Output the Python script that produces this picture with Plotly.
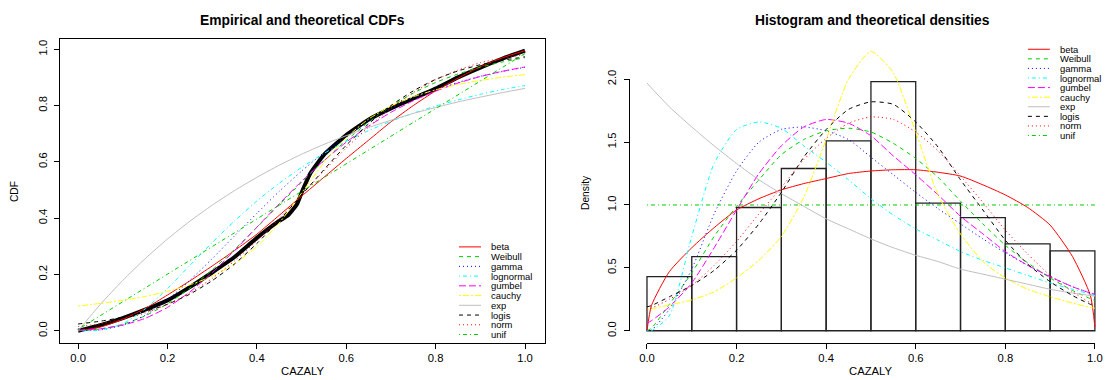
import plotly.graph_objects as go

W, H = 1109, 380
FONT = "Liberation Sans, Arial, Helvetica, sans-serif"

dist_names = ["beta", "Weibull", "gamma", "lognormal", "gumbel", "cauchy", "exp", "logis", "norm", "unif"]
dist_colors = ["#FF0000", "#00CD00", "#0000FF", "#00FFFF", "#FF00FF", "#FFFF00", "#BEBEBE", "#000000", "#FF0000", "#00CD00"]
dist_dashes = ["solid", "4px,4px", "1px,3px", "1px,3px,4px,3px", "7px,3px", "2px,2px,6px,2px",
               "solid", "4px,4px", "1px,3px", "1px,3px,4px,3px"]

# ---------------- left panel: empirical and theoretical CDFs ----------------
ecdf_x = [0, 0.05, 0.1, 0.15, 0.2, 0.25, 0.3, 0.35, 0.4, 0.45, 0.47, 0.49, 0.5, 0.52, 0.55,
          0.6, 0.65, 0.7, 0.75, 0.8, 0.85, 0.9, 0.95, 1.0]
ecdf_y = [0.0, 0.02, 0.045, 0.075, 0.108, 0.155, 0.207, 0.262, 0.33, 0.39, 0.41, 0.45, 0.49, 0.56, 0.625,
          0.695, 0.75, 0.79, 0.825, 0.86, 0.90, 0.935, 0.967, 0.995]

cdf_x = [0, 0.05, 0.1, 0.15, 0.2, 0.25, 0.3, 0.35, 0.4, 0.45, 0.5,
         0.55, 0.6, 0.65, 0.7, 0.75, 0.8, 0.85, 0.9, 0.95, 1.0]
cdf_beta = [0.0, 0.013, 0.041, 0.079, 0.127, 0.177, 0.23, 0.285, 0.343, 0.41, 0.478,
            0.545, 0.612, 0.677, 0.742, 0.80, 0.852, 0.897, 0.938, 0.97, 0.995]
cdf_weibull = [0.0, 0.006, 0.023, 0.053, 0.096, 0.151, 0.216, 0.289, 0.367, 0.447, 0.527,
               0.604, 0.676, 0.741, 0.797, 0.844, 0.882, 0.912, 0.936, 0.955, 0.97]
cdf_gamma = [0.0, 0.003, 0.02, 0.055, 0.11, 0.179, 0.256, 0.337, 0.417, 0.495, 0.567,
             0.633, 0.691, 0.743, 0.789, 0.826, 0.856, 0.882, 0.904, 0.921, 0.936]
cdf_lognormal = [0.0, 0.002, 0.025, 0.077, 0.15, 0.232, 0.313, 0.39, 0.461, 0.524, 0.58,
                 0.63, 0.673, 0.711, 0.744, 0.773, 0.798, 0.82, 0.84, 0.857, 0.871]
cdf_gumbel = [0.002, 0.007, 0.02, 0.044, 0.083, 0.138, 0.206, 0.285, 0.368, 0.451, 0.531,
              0.604, 0.67, 0.727, 0.776, 0.817, 0.851, 0.88, 0.903, 0.922, 0.937]
cdf_cauchy = [0.088, 0.097, 0.108, 0.122, 0.14, 0.163, 0.194, 0.238, 0.299, 0.383, 0.489,
              0.597, 0.686, 0.752, 0.798, 0.831, 0.856, 0.875, 0.889, 0.901, 0.91]
cdf_exp = [0.0, 0.094, 0.179, 0.256, 0.326, 0.389, 0.446, 0.498, 0.545, 0.588, 0.627,
           0.662, 0.693, 0.722, 0.748, 0.772, 0.793, 0.813, 0.83, 0.846, 0.861]
cdf_logis = [0.024, 0.034, 0.048, 0.068, 0.094, 0.13, 0.178, 0.237, 0.31, 0.392, 0.482,
             0.572, 0.659, 0.735, 0.8, 0.852, 0.893, 0.923, 0.945, 0.961, 0.973]
cdf_norm = [0.015, 0.025, 0.041, 0.063, 0.094, 0.134, 0.186, 0.248, 0.32, 0.399, 0.483,
            0.568, 0.649, 0.724, 0.791, 0.846, 0.891, 0.926, 0.952, 0.969, 0.981]
cdf_unif_x = [0, 1.0]
cdf_unif = [0.005, 0.985]

# ---------------- right panel: histogram and theoretical densities ----------------
hist_edges = [0.0, 0.1, 0.2, 0.3, 0.4, 0.5, 0.6, 0.7, 0.8, 0.9, 1.0]
hist_density = [0.43, 0.59, 0.98, 1.29, 1.51, 1.98, 1.015, 0.90, 0.69, 0.635]

dens_x = [0, 0.01, 0.05, 0.1, 0.15, 0.2, 0.25, 0.3, 0.35, 0.4, 0.45, 0.5,
          0.55, 0.6, 0.65, 0.7, 0.75, 0.8, 0.85, 0.9, 0.95, 0.99, 1.0]
dens_beta = [0.0, 0.20, 0.47, 0.66, 0.82, 0.96, 1.05, 1.12, 1.17, 1.21, 1.25, 1.27,
             1.28, 1.28, 1.26, 1.23, 1.16, 1.08, 0.98, 0.84, 0.59, 0.28, 0.03]
dens_weibull = [0.0, 0.02, 0.21, 0.46, 0.75, 0.99, 1.20, 1.40, 1.52, 1.59, 1.61, 1.58,
                1.49, 1.37, 1.22, 1.03, 0.85, 0.68, 0.54, 0.42, 0.32, 0.255, 0.24]
dens_gamma = [0.0, 0.005, 0.17, 0.49, 0.93, 1.27, 1.50, 1.60, 1.62, 1.59, 1.52, 1.38,
              1.24, 1.10, 0.97, 0.85, 0.73, 0.62, 0.52, 0.43, 0.35, 0.30, 0.29]
dens_lognormal = [0.0, 0.0, 0.12, 0.75, 1.33, 1.60, 1.66, 1.61, 1.47, 1.34, 1.20, 1.05,
                  0.92, 0.81, 0.72, 0.63, 0.56, 0.50, 0.44, 0.38, 0.33, 0.29, 0.28]
dens_gumbel = [0.06, 0.08, 0.19, 0.38, 0.66, 0.96, 1.25, 1.47, 1.62, 1.68, 1.65, 1.55,
               1.39, 1.24, 1.08, 0.91, 0.77, 0.63, 0.52, 0.43, 0.35, 0.30, 0.29]
dens_cauchy = [0.17, 0.175, 0.205, 0.245, 0.31, 0.42, 0.56, 0.75, 1.06, 1.52, 2.00, 2.22,
               2.05, 1.58, 1.08, 0.77, 0.55, 0.42, 0.33, 0.27, 0.22, 0.185, 0.18]
dens_exp = [1.97, 1.93, 1.78, 1.62, 1.47, 1.33, 1.20, 1.09, 0.99, 0.89, 0.81, 0.73,
            0.66, 0.60, 0.55, 0.49, 0.45, 0.41, 0.37, 0.33, 0.30, 0.28, 0.275]
dens_logis = [0.19, 0.20, 0.27, 0.36, 0.48, 0.64, 0.85, 1.10, 1.38, 1.60, 1.76, 1.82,
              1.80, 1.66, 1.46, 1.20, 0.96, 0.72, 0.53, 0.39, 0.28, 0.21, 0.20]
dens_norm = [0.17, 0.18, 0.25, 0.36, 0.52, 0.71, 0.93, 1.14, 1.36, 1.53, 1.65, 1.70,
             1.68, 1.58, 1.43, 1.23, 1.02, 0.80, 0.61, 0.44, 0.31, 0.22, 0.20]
dens_unif_x = [0, 1.0]
dens_unif = [1.0, 1.0]

cdf_series = [(cdf_x, cdf_beta), (cdf_x, cdf_weibull), (cdf_x, cdf_gamma), (cdf_x, cdf_lognormal),
              (cdf_x, cdf_gumbel), (cdf_x, cdf_cauchy), (cdf_x, cdf_exp), (cdf_x, cdf_logis),
              (cdf_x, cdf_norm), (cdf_unif_x, cdf_unif)]
dens_series = [(dens_x, dens_beta), (dens_x, dens_weibull), (dens_x, dens_gamma), (dens_x, dens_lognormal),
               (dens_x, dens_gumbel), (dens_x, dens_cauchy), (dens_x, dens_exp), (dens_x, dens_logis),
               (dens_x, dens_norm), (dens_unif_x, dens_unif)]

fig = go.Figure()

# left panel
fig.add_trace(go.Scatter(x=ecdf_x, y=ecdf_y, mode="lines", line=dict(color="black", width=4, shape="spline", smoothing=0.4),
                         xaxis="x", yaxis="y", showlegend=False, hoverinfo="skip"))
for (xs, ys), col, dsh in zip(cdf_series, dist_colors, dist_dashes):
    fig.add_trace(go.Scatter(x=xs, y=ys, mode="lines", line=dict(color=col, width=1, dash=dsh, shape="spline", smoothing=0.6),
                             xaxis="x", yaxis="y", showlegend=False, hoverinfo="skip"))

# right panel
mids = [(hist_edges[i] + hist_edges[i + 1]) / 2 for i in range(len(hist_density))]
widths = [hist_edges[i + 1] - hist_edges[i] for i in range(len(hist_density))]
fig.add_trace(go.Bar(x=mids, y=hist_density, width=widths, marker=dict(color="rgba(0,0,0,0)",
                     line=dict(color="#222222", width=1.3)), xaxis="x2", yaxis="y2", showlegend=False,
                     hoverinfo="skip"))
for (xs, ys), col, dsh in zip(dens_series, dist_colors, dist_dashes):
    fig.add_trace(go.Scatter(x=xs, y=ys, mode="lines", line=dict(color=col, width=1, dash=dsh, shape="spline", smoothing=0.6),
                             xaxis="x2", yaxis="y2", showlegend=False, hoverinfo="skip", cliponaxis=False))
# decoration axes (R style detached axes)
fig.add_trace(go.Scatter(x=[], y=[], xaxis="x3", yaxis="y3", showlegend=False, hoverinfo="skip"))

# The photographed page shows the figure shrunk by the page margin and offset by it;
# positions below are given in target picture pixels and converted to paper fractions.
AX = 1109 / 1125.0
BX = 8 * AX
AY = 380 / 396.0
BY = 8 * AY
FS = 1 / 0.975  # font size compensation


def px_x(p):
    return ((p - BX) / AX) / W


def px_y(p):
    return 1 - ((p - BY) / AY) / H


tickfont = dict(family=FONT, size=11 * FS, color="black")

# left axes: plot region px x 60..545, y 37..341 ; data 0 at x=78 / y=329
L_X0, L_XS = 78, 447.0
L_Y0, L_YS = 329, 282.0
fig.update_layout(
    xaxis=dict(domain=[px_x(60), px_x(545)], range=[(60 - L_X0) / L_XS, (545 - L_X0) / L_XS],
               showline=True, mirror=True, linecolor="black", linewidth=1, ticks="outside",
               ticklen=5, tickcolor="black", tickvals=[0, 0.2, 0.4, 0.6, 0.8, 1.0],
               ticktext=["0.0", "0.2", "0.4", "0.6", "0.8", "1.0"], tickfont=tickfont,
               showgrid=False, zeroline=False, anchor="y"),
    yaxis=dict(domain=[px_y(341), px_y(37)], range=[(L_Y0 - 341) / L_YS, (L_Y0 - 37) / L_YS],
               showline=True, mirror=True, linecolor="black", linewidth=1, ticks="outside",
               ticklen=5, tickcolor="black", tickvals=[0, 0.2, 0.4, 0.6, 0.8, 1.0],
               ticktext=["0.0", "0.2", "0.4", "0.6", "0.8", "1.0"], tickfont=tickfont,
               tickangle=-90, ticklabelstandoff=3, showgrid=False, zeroline=False, anchor="x"),
)

# right data axes: 0 at x=647, 448 px/unit ; 0 at y=329, 126 px/unit
R_X0, R_XS = 647, 448.0
R_Y0, R_YS = 329, 126.0
R_RIGHT = W * AX + BX
fig.update_layout(
    xaxis2=dict(domain=[px_x(629), 1.0], range=[(629 - R_X0) / R_XS, (R_RIGHT - R_X0) / R_XS],
                visible=False, anchor="y2"),
    yaxis2=dict(domain=[px_y(341), px_y(30)], range=[(R_Y0 - 341) / R_YS, (R_Y0 - 30) / R_YS],
                visible=False, anchor="x2"),
    xaxis3=dict(domain=[px_x(R_X0), px_x(R_X0 + R_XS)], range=[0, 1], anchor="free",
                position=px_y(341), showline=True, linecolor="black", linewidth=1,
                ticks="outside", ticklen=5, tickcolor="black",
                tickvals=[0, 0.2, 0.4, 0.6, 0.8, 1.0],
                ticktext=["0.0", "0.2", "0.4", "0.6", "0.8", "1.0"], tickfont=tickfont,
                ticklabeloverflow="allow", showgrid=False, zeroline=False),
    yaxis3=dict(domain=[px_y(R_Y0), px_y(R_Y0 - 2 * R_YS)], range=[0, 2], anchor="free",
                position=px_x(629), showline=True, linecolor="black", linewidth=1,
                ticks="outside", ticklen=5, tickcolor="black",
                tickvals=[0, 0.5, 1.0, 1.5, 2.0],
                ticktext=["0.0", "0.5", "1.0", "1.5", "2.0"], tickfont=tickfont,
                tickangle=-90, ticklabelstandoff=3, showgrid=False, zeroline=False),
)

annotations = []


def add_text(text, x, y, size, angle=0, bold=False, xanchor="center"):
    annotations.append(dict(text=("<b>%s</b>" % text) if bold else text, x=px_x(x), y=px_y(y),
                            xref="paper", yref="paper", showarrow=False, textangle=angle,
                            xanchor=xanchor, yanchor="middle", borderpad=0,
                            font=dict(family=FONT, size=size * FS, color="black")))


add_text("Empirical and theoretical CDFs", 302, 18, 13.5, bold=True)
add_text("Histogram and theoretical densities", 873, 18, 13.5, bold=True)
add_text("CAZALY", 302, 369, 11)
add_text("CAZALY", 871, 369, 11)
add_text("CDF", 14, 190, 10, angle=-90)
add_text("Density", 585, 190, 10, angle=-90)

# manual legends (R style, no box)
shapes = []
legends = [dict(x0=459, x1=481, xt=490, y0=245, dy=9.75), dict(x0=1028, x1=1050, xt=1059, y0=47, dy=9.6)]
for lg in legends:
    for i, (name, col, dsh) in enumerate(zip(dist_names, dist_colors, dist_dashes)):
        yy = lg["y0"] + i * lg["dy"]
        shapes.append(dict(type="line", xref="paper", yref="paper", x0=px_x(lg["x0"]), x1=px_x(lg["x1"]),
                           y0=px_y(yy), y1=px_y(yy), line=dict(color=col, width=1, dash=dsh)))
        add_text(name, lg["xt"], yy, 9.2, xanchor="left")

fig.update_layout(width=W, height=H, autosize=False, margin=dict(l=0, r=0, t=0, b=0),
                  paper_bgcolor="white", plot_bgcolor="rgba(0,0,0,0)",
                  annotations=annotations, shapes=shapes, showlegend=False,
                  font=dict(family=FONT, size=11, color="black"))

fig.write_html("out.html", config={"displayModeBar": False},
               post_script="document.body.style.margin='0';document.body.style.overflow='hidden';")
